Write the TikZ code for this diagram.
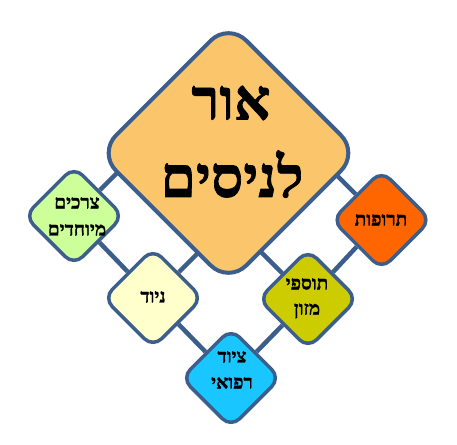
\documentclass[tikz,border=0pt]{standalone}
\usepackage{fontspec}
\TeXXeTstate=1
\newfontfamily\heb[Script=Hebrew, BoldFeatures={FakeBold=1.2}]{Liberation Serif}
\usetikzlibrary{shapes.geometric,backgrounds,calc}
\definecolor{edgec}{HTML}{3B5E8C}
\definecolor{bigfill}{HTML}{FAC56B}
\definecolor{greenfill}{HTML}{CCFF99}
\definecolor{palefill}{HTML}{FFFFCC}
\definecolor{bluefill}{HTML}{1AC6FF}
\definecolor{olivefill}{HTML}{CCCC00}
\definecolor{orangefill}{HTML}{FF6600}
\begin{document}
\begin{tikzpicture}[x=1pt,y=-1pt,
  dia/.style={shape=diamond, draw=edgec, line width=3.5pt, aspect=1, inner sep=0pt,
    rounded corners=12pt, minimum width=#1, minimum height=#1},
  conn/.style={draw=edgec, line width=4.5pt},
  lbl/.style={font=\heb\bfseries\fontsize{19}{21}\selectfont, inner sep=0pt},
  biglbl/.style={font=\heb\bfseries\fontsize{57}{60}\selectfont, inner sep=0pt}]
\useasboundingbox (0,0) rectangle (457,444);
% diamonds
\node[dia=262pt, line width=4pt, rounded corners=25pt, fill=bigfill] (big) at (228.5,153) {};
\node[dia=100pt, fill=greenfill] (g) at (74,216) {};
\node[dia=100pt, fill=palefill] (n) at (153,298) {};
\node[dia=100pt, fill=bluefill] (b) at (231,378) {};
\node[dia=100pt, fill=olivefill] (o) at (308,299) {};
\node[dia=100pt, fill=orangefill] (r) at (381.5,220) {};
% connector ends inside the big diamond
\coordinate (gB) at ($(g)+(60,-60)$);
\coordinate (nB) at ($(n)+(60,-60)$);
\coordinate (oB) at ($(o)+(-60,-60)$);
\coordinate (rB) at ($(r)+(-60,-60)$);
\begin{pgfonlayer}{background}
  \draw[conn] (g) -- (gB);
  \draw[conn] (n) -- (nB);
  \draw[conn] (o) -- (oB);
  \draw[conn] (r) -- (rB);
  \draw[conn] (g) -- (n);
  \draw[conn] (n) -- (b);
  \draw[conn] (b) -- (o);
  \draw[conn] (o) -- (r);
\end{pgfonlayer}
% labels
\node[biglbl] (t1) at (231,103) {\beginR אור\endR};
\node[biglbl] (t2) at (232,174) {\beginR לניסים\endR};
\node[lbl] (tg1) at (77,203) {\beginR צרכים\endR};
\node[lbl] (tg2) at (77,230) {\beginR מיוחדים\endR};
\node[lbl] (tn) at (153,297) {\beginR ניוד\endR};
\node[lbl] (tb1) at (232,357) {\beginR ציוד\endR};
\node[lbl] (tb2) at (232,383) {\beginR רפואי\endR};
\node[lbl] (to1) at (307,284) {\beginR תוספי\endR};
\node[lbl] (to2) at (307,311) {\beginR מזון\endR};
\node[lbl] (tr) at (381,220) {\beginR תרופות\endR};
\end{tikzpicture}
\end{document}
